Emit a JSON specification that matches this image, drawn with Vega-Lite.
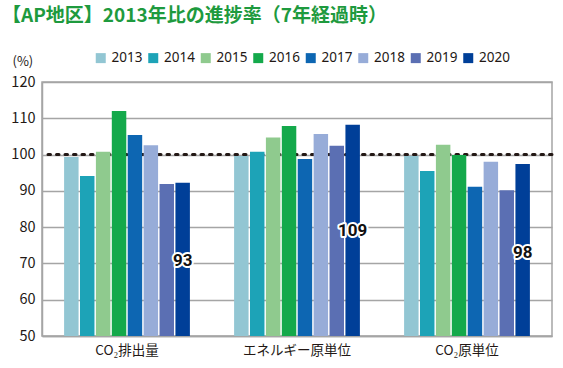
{
  "$schema": "https://vega.github.io/schema/vega-lite/v6.json",
  "width": 510,
  "height": 254,
  "autosize": {"type": "none"},
  "padding": {"left": 42, "top": 82, "right": 11, "bottom": 32},
  "background": "white",
  "title": {
    "text": "【AP地区】2013年比の進捗率（7年経過時）",
    "anchor": "start",
    "frame": "group",
    "dx": -40,
    "offset": 25,
    "font": "Noto Sans CJK JP",
    "fontSize": 19,
    "fontWeight": "bold",
    "color": "#1e9a3e"
  },
  "config": {
    "view": {"stroke": "#a5a5a5", "strokeWidth": 1.5},
    "font": "Noto Sans CJK JP",
    "axisY": {
      "labelOverlap": false,
      "grid": true,
      "gridColor": "#a5a5a5",
      "gridWidth": 1.5,
      "ticks": false,
      "domainColor": "#a5a5a5",
      "domainWidth": 1.5,
      "labelFontSize": 14.5,
      "labelColor": "#231815",
      "labelPadding": 7,
      "titleAngle": 0,
      "titleAlign": "left",
      "titleBaseline": "middle",
      "titleX": -30,
      "titleY": -21,
      "titleFontSize": 13,
      "titleFontWeight": "normal",
      "titleColor": "#231815"
    }
  },
  "datasets": {
    "bars": [
      {"category": "CO₂排出量", "year": "2013", "value": 99.3},
      {"category": "CO₂排出量", "year": "2014", "value": 94.1},
      {"category": "CO₂排出量", "year": "2015", "value": 100.8},
      {"category": "CO₂排出量", "year": "2016", "value": 112.0},
      {"category": "CO₂排出量", "year": "2017", "value": 105.4},
      {"category": "CO₂排出量", "year": "2018", "value": 102.6},
      {"category": "CO₂排出量", "year": "2019", "value": 91.9},
      {"category": "CO₂排出量", "year": "2020", "value": 92.2},
      {"category": "エネルギー原単位", "year": "2013", "value": 99.6},
      {"category": "エネルギー原単位", "year": "2014", "value": 100.8},
      {"category": "エネルギー原単位", "year": "2015", "value": 104.7},
      {"category": "エネルギー原単位", "year": "2016", "value": 107.9},
      {"category": "エネルギー原単位", "year": "2017", "value": 98.8},
      {"category": "エネルギー原単位", "year": "2018", "value": 105.7},
      {"category": "エネルギー原単位", "year": "2019", "value": 102.4},
      {"category": "エネルギー原単位", "year": "2020", "value": 108.2},
      {"category": "CO₂原単位", "year": "2013", "value": 99.6},
      {"category": "CO₂原単位", "year": "2014", "value": 95.5},
      {"category": "CO₂原単位", "year": "2015", "value": 102.7},
      {"category": "CO₂原単位", "year": "2016", "value": 99.9},
      {"category": "CO₂原単位", "year": "2017", "value": 91.1},
      {"category": "CO₂原単位", "year": "2018", "value": 98.0},
      {"category": "CO₂原単位", "year": "2019", "value": 90.2},
      {"category": "CO₂原単位", "year": "2020", "value": 97.4}
    ],
    "labels": [
      {"category": "CO₂排出量", "label": "93", "pos": 70.8},
      {"category": "エネルギー原単位", "label": "109", "pos": 78.8},
      {"category": "CO₂原単位", "label": "98", "pos": 72.9}
    ]
  },
  "encoding": {
    "x": {
      "field": "category",
      "type": "nominal",
      "sort": ["CO₂排出量", "エネルギー原単位", "CO₂原単位"],
      "scale": {"paddingInner": 0.26, "paddingOuter": 0.13},
      "axis": {
        "title": null,
        "labelAngle": 0,
        "ticks": false,
        "domainColor": "#a5a5a5",
        "domainWidth": 1.5,
        "labelFontSize": 13.5,
        "labelColor": "#231815",
        "labelPadding": 7
      }
    }
  },
  "layer": [
    {
      "data": {"values": [{"ref": 100}]},
      "mark": {"type": "rule", "color": "#231815", "strokeWidth": 3, "strokeDash": [2.5, 6], "strokeCap": "round"},
      "encoding": {
        "y": {
          "field": "ref",
          "type": "quantitative",
          "scale": {"domain": [50, 120], "nice": false, "zero": false},
          "axis": {"title": "(%)", "values": [50, 60, 70, 80, 90, 100, 110, 120], "tickCount": 8}
        },
        "x": null
      }
    },
    {
      "data": {"name": "bars"},
      "mark": {"type": "bar", "clip": true},
      "encoding": {
        "xOffset": {
          "field": "year",
          "type": "nominal",
          "scale": {"paddingInner": 0.09, "paddingOuter": 0}
        },
        "y": {
          "field": "value",
          "type": "quantitative",
          "scale": {"domain": [50, 120], "nice": false, "zero": false},
          "axis": {"title": "(%)", "values": [50, 60, 70, 80, 90, 100, 110, 120], "tickCount": 8}
        },
        "y2": {"datum": 50},
        "color": {
          "field": "year",
          "type": "nominal",
          "scale": {
            "domain": ["2013", "2014", "2015", "2016", "2017", "2018", "2019", "2020"],
            "range": ["#92c6d3", "#1da3b7", "#8fca8e", "#14a94b", "#0d66b2", "#97acd8", "#5b6fb3", "#003f98"]
          },
          "legend": {
            "title": null,
            "orient": "none",
            "direction": "horizontal",
            "legendX": 52,
            "legendY": -31,
            "symbolType": "square",
            "symbolSize": 100,
            "symbolStrokeWidth": 0,
            "labelFontSize": 13.5,
            "labelColor": "#231815",
            "labelFont": "Noto Sans",
            "labelOffset": 4,
            "columnPadding": 3.5
          }
        }
      }
    },
    {
      "data": {"name": "labels"},
      "mark": {"type": "text", "font": "Roboto", "fontWeight": "bold", "fontSize": 17, "fill": "white", "stroke": "white", "strokeWidth": 4, "strokeJoin": "round"},
      "encoding": {
        "xOffset": {"datum": "2020"},
        "y": {
          "field": "pos",
          "type": "quantitative",
          "axis": {"title": "(%)", "values": [50, 60, 70, 80, 90, 100, 110, 120], "tickCount": 8}
        },
        "text": {"field": "label"}
      }
    },
    {
      "data": {"name": "labels"},
      "mark": {"type": "text", "font": "Roboto", "fontWeight": "bold", "fontSize": 17, "fill": "#111111"},
      "encoding": {
        "xOffset": {"datum": "2020"},
        "y": {
          "field": "pos",
          "type": "quantitative",
          "axis": {"title": "(%)", "values": [50, 60, 70, 80, 90, 100, 110, 120], "tickCount": 8}
        },
        "text": {"field": "label"}
      }
    }
  ]
}
